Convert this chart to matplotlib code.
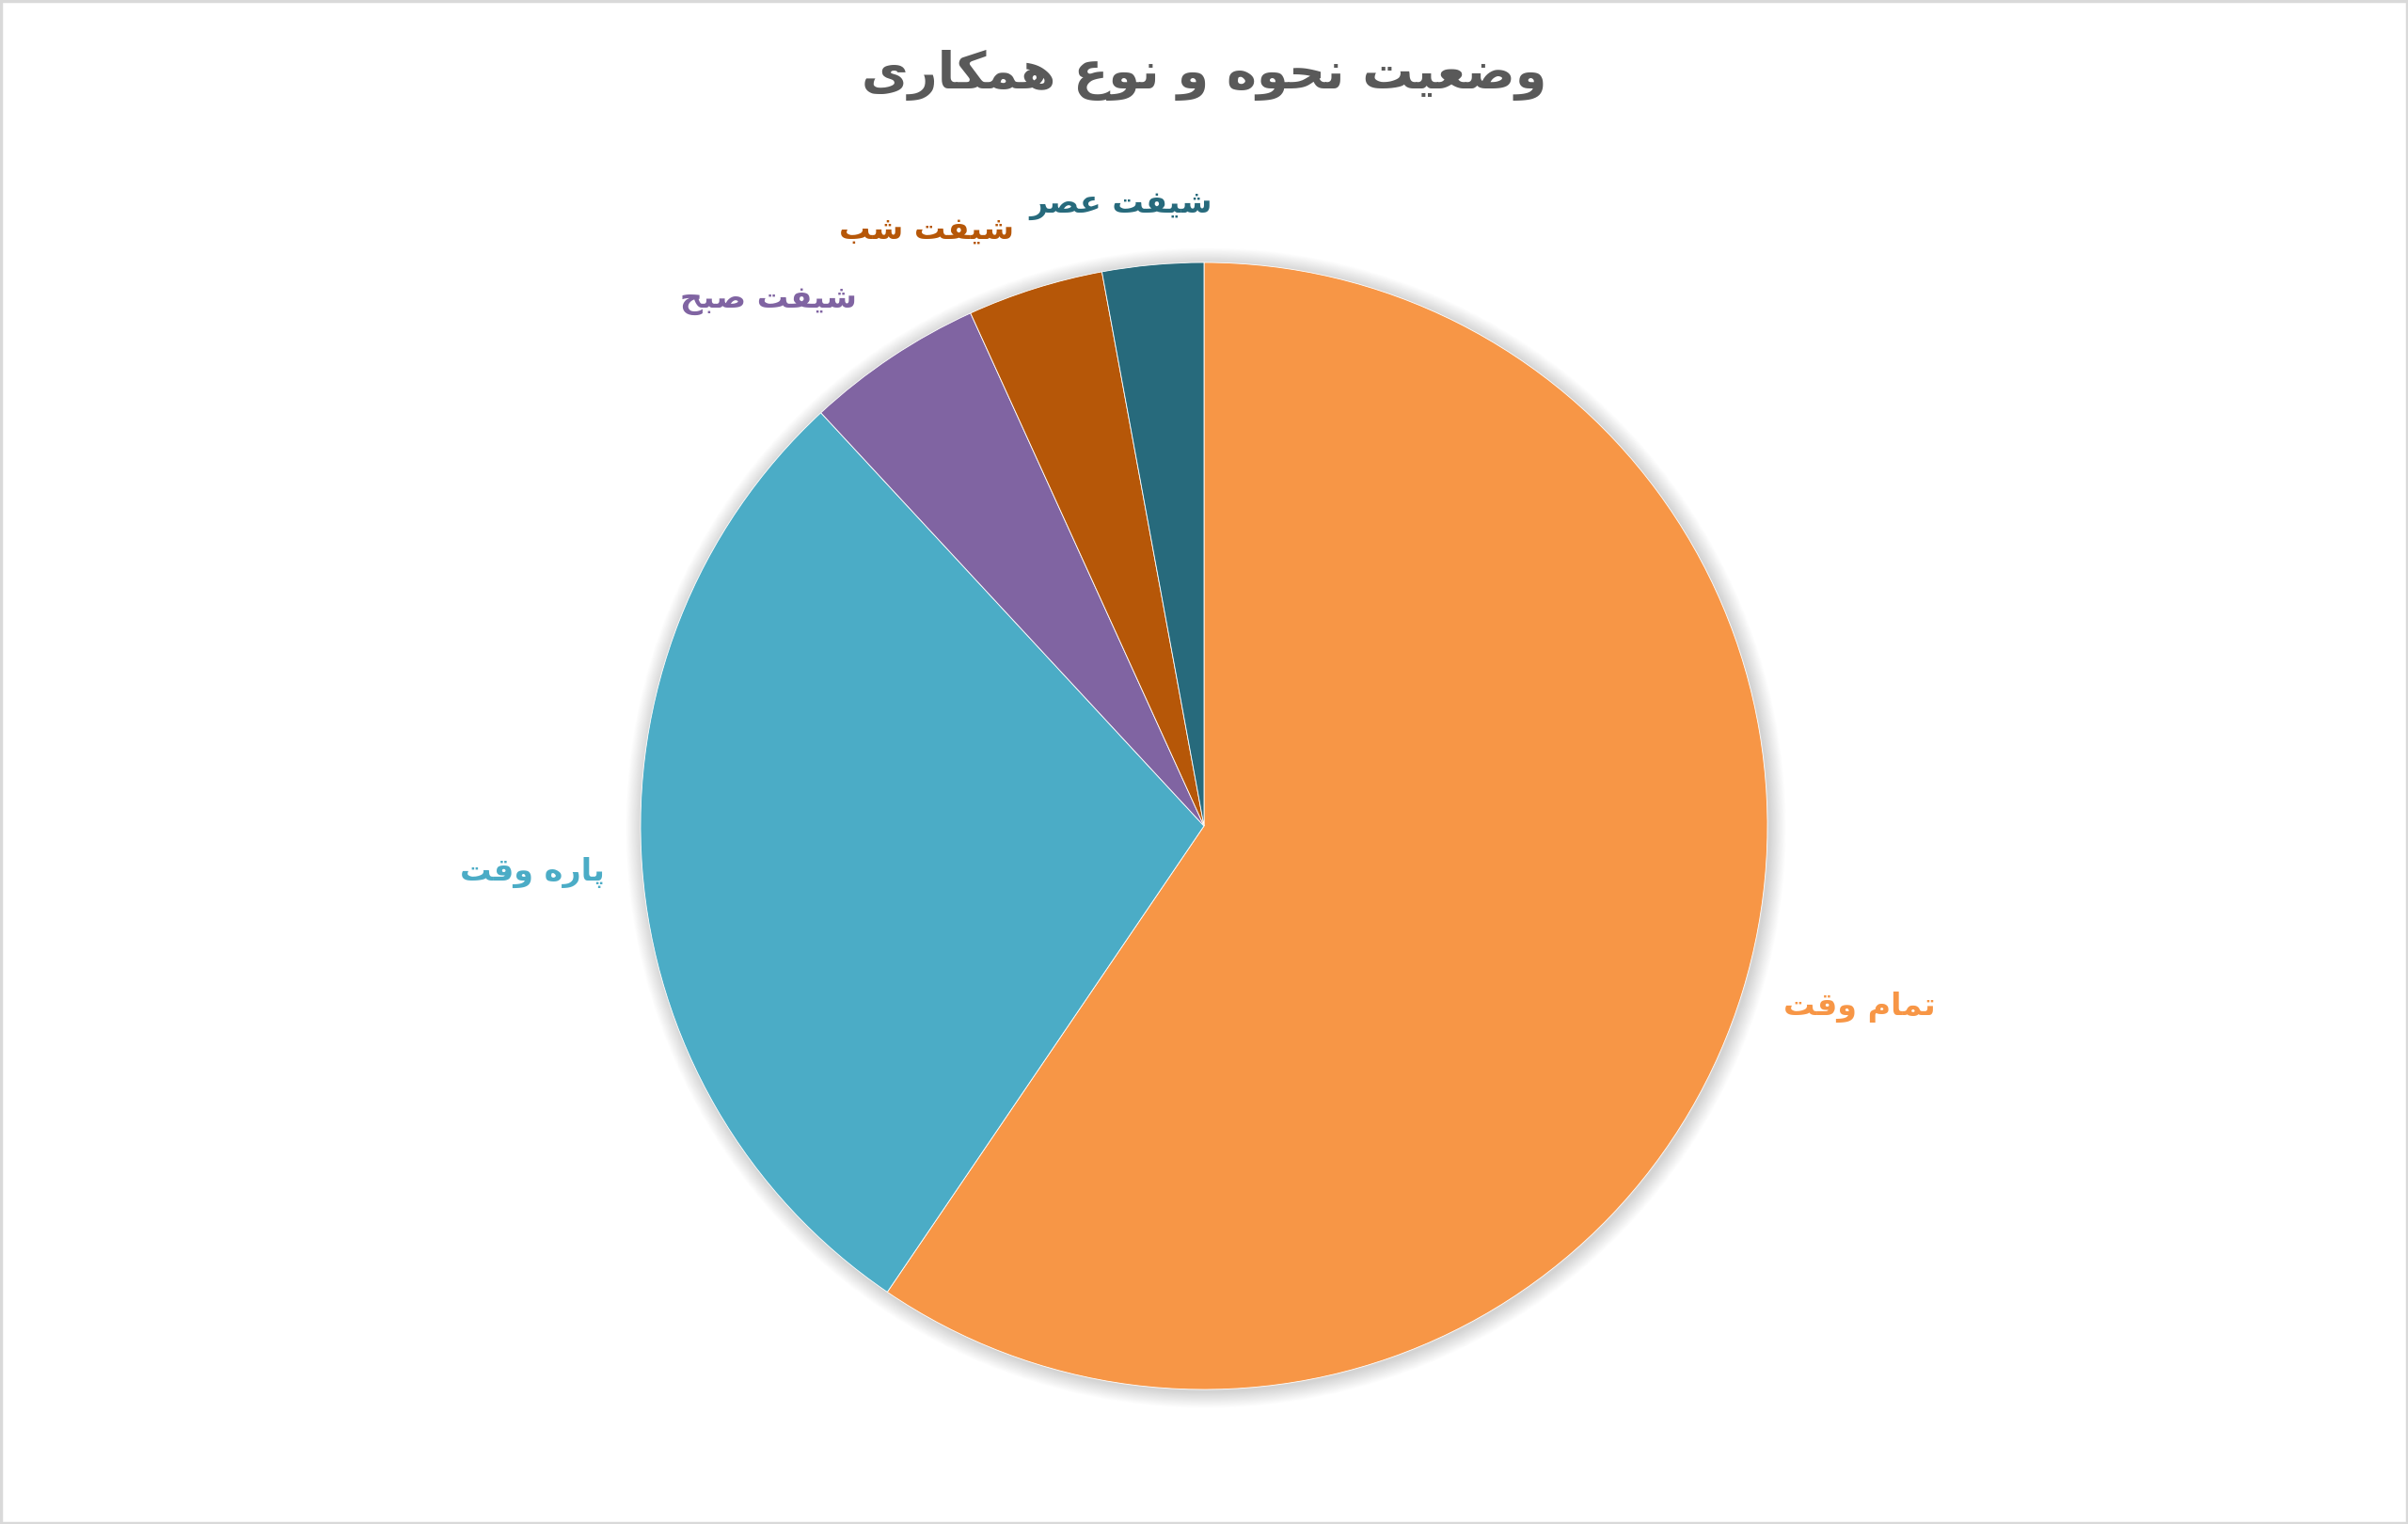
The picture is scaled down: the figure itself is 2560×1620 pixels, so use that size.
import matplotlib
matplotlib.use("Agg")
import matplotlib.pyplot as plt
from matplotlib.patches import Circle, Rectangle
import numpy as np

# ---------------- data ----------------
title_text = "وضعیت نحوه و نوع همکاری"
categories = ["تمام وقت", "پاره وقت", "شیفت صبح", "شیفت شب", "شیفت عصر"]
values = [59.5, 28.6, 5.1, 3.9, 2.9]
colors = ["#F79646", "#4BACC6", "#8064A2", "#B65708", "#276A7C"]

# label placement (angle clockwise from top in degrees, distance in radii)
label_polar = [(105.4, 1.207), (266.0, 1.195), (320.4, 1.213), (335.0, 1.167), (352.4, 1.113)]

# ---------------- simple Persian shaping ----------------
FORMS = {  # iso, final, initial, medial
    'ا': ('\uFE8D', '\uFE8E', None, None),
    'ب': ('\uFE8F', '\uFE90', '\uFE91', '\uFE92'),
    'پ': ('\uFB56', '\uFB57', '\uFB58', '\uFB59'),
    'ت': ('\uFE95', '\uFE96', '\uFE97', '\uFE98'),
    'ح': ('\uFEA1', '\uFEA2', '\uFEA3', '\uFEA4'),
    'ر': ('\uFEAD', '\uFEAE', None, None),
    'ش': ('\uFEB5', '\uFEB6', '\uFEB7', '\uFEB8'),
    'ص': ('\uFEB9', '\uFEBA', '\uFEBB', '\uFEBC'),
    'ض': ('\uFEBD', '\uFEBE', '\uFEBF', '\uFEC0'),
    'ع': ('\uFEC9', '\uFECA', '\uFECB', '\uFECC'),
    'ف': ('\uFED1', '\uFED2', '\uFED3', '\uFED4'),
    'ق': ('\uFED5', '\uFED6', '\uFED7', '\uFED8'),
    'ک': ('\uFB8E', '\uFB8F', '\uFB90', '\uFB91'),
    'م': ('\uFEE1', '\uFEE2', '\uFEE3', '\uFEE4'),
    'ن': ('\uFEE5', '\uFEE6', '\uFEE7', '\uFEE8'),
    'ه': ('\uFEE9', '\uFEEA', '\uFEEB', '\uFEEC'),
    'و': ('\uFEED', '\uFEEE', None, None),
    'ی': ('\uFBFC', '\uFBFD', '\uFBFE', '\uFBFF'),
}


def dual(c):
    return c in FORMS and FORMS[c][2] is not None


def joining(c):
    return c in FORMS


def shape(s):
    out = []
    for i, c in enumerate(s):
        if c not in FORMS:
            out.append(c)
            continue
        prev = s[i - 1] if i > 0 else ''
        nxt = s[i + 1] if i + 1 < len(s) else ''
        cp = dual(prev)
        cn = dual(c) and joining(nxt)
        iso, fin, ini, med = FORMS[c]
        if cp and cn:
            out.append(med)
        elif cp:
            out.append(fin)
        elif cn:
            out.append(ini)
        else:
            out.append(iso)
    return ''.join(out)[::-1]


# ---------------- figure ----------------
W, H = 2560, 1620
fig = plt.figure(figsize=(W / 100, H / 100), dpi=100)
fig.patch.set_facecolor("white")
ax = fig.add_axes([0, 0, 1, 1])

cx, cy, R = 1280, H - 878, 599

# soft shadow
n_sh = 22
for k in range(n_sh, 0, -1):
    ax.add_patch(Circle((cx + 2, cy - 2), R + k * 0.8, facecolor="#000000", alpha=0.009,
                        edgecolor="none", zorder=1))

wedges, _ = ax.pie(values, colors=colors, startangle=90, counterclock=False,
                   center=(cx, cy), radius=R, frame=True,
                   wedgeprops=dict(linewidth=0.6, edgecolor="#FFFFFF"))
for w in wedges:
    w.set_zorder(2)
ax.set_xlim(0, W)
ax.set_ylim(0, H)
ax.set_aspect("equal")
ax.axis("off")

font = ["DejaVu Sans"]
for (ang, dist), lab, col in zip(label_polar, categories, colors):
    t = np.deg2rad(ang)
    x = cx + dist * R * np.sin(t)
    y = cy + dist * R * np.cos(t)
    ax.text(x, y, shape(lab), color=col, fontsize=24, fontweight="bold",
            family=font, ha="center", va="center", zorder=3)

ax.text(W / 2, H - 80, shape(title_text), color="#595959", fontsize=39,
        fontweight="bold", family=font, ha="center", va="center", zorder=3)

fig.patches.append(Rectangle((0.0005, 0.0008), 0.999, 0.9984, transform=fig.transFigure,
                             fill=False, edgecolor="#D9D9D9", linewidth=2.5))

fig.savefig("out.png", dpi=100, facecolor="white")
